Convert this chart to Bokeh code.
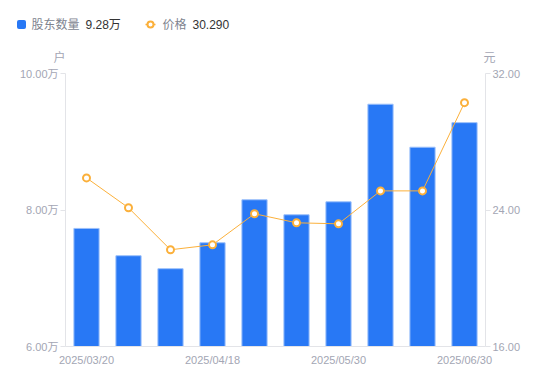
from bokeh.plotting import figure
from bokeh.layouts import column
from bokeh.models import Range1d, LinearAxis, FixedTicker, ColumnDataSource, PrintfTickFormatter
from bokeh.core.properties import value
from bokeh.embed import file_html
from bokeh.resources import INLINE

dates = ["2025/03/20", "2025/03/31", "2025/04/10", "2025/04/18", "2025/04/30",
         "2025/05/20", "2025/05/30", "2025/06/10", "2025/06/20", "2025/06/30"]
holders = [7.73, 7.33, 7.14, 7.52, 8.15, 7.93, 8.12, 9.55, 8.92, 9.28]
prices = [25.88, 24.13, 21.67, 21.96, 23.78, 23.25, 23.19, 25.12, 25.12, 30.29]
shown_labels = [0, 3, 6, 9]
left_ticks = [6, 8, 10]
right_ticks = [16, 24, 32]

FONT = "Liberation Sans, Noto Sans CJK SC"
GRAY = "#A3A6B4"
AXIS = "#E3E4E8"
BLUE = "#2878F5"
ORANGE = "#FBB03B"
W = 550

xs = list(range(len(dates)))
src = ColumnDataSource(dict(x=xs, h=holders, p=prices))

p = figure(width=W, height=305, output_backend="svg", toolbar_location=None,
           x_range=Range1d(-0.5, len(dates) - 0.5), y_range=Range1d(6, 10),
           min_border_left=65, min_border_right=65, min_border_top=8, min_border_bottom=24)
p.frame_align = False
p.outline_line_color = None
p.xgrid.visible = False
p.ygrid.visible = False
p.extra_y_ranges = {"price": Range1d(16, 32)}

p.vbar(x="x", top="h", bottom=6, width=0.6, source=src, fill_color=BLUE,
       line_color="#9CC0FA", line_width=1)
p.line(x="x", y="p", source=src, y_range_name="price", line_color=ORANGE, line_width=1)
p.scatter(x="x", y="p", source=src, y_range_name="price", size=7, fill_color="white",
          line_color=ORANGE, line_width=2)

xa = p.xaxis[0]
xa.ticker = FixedTicker(ticks=shown_labels)
xa.major_label_overrides = {i: dates[i] for i in shown_labels}
xa.axis_line_color = AXIS
xa.major_tick_line_color = None
xa.minor_tick_line_color = None
xa.major_label_text_color = GRAY
xa.major_label_text_font = FONT
xa.major_label_text_font_size = "11px"
xa.major_label_standoff = 1

ya = p.yaxis[0]
ya.ticker = FixedTicker(ticks=left_ticks)
ya.formatter = PrintfTickFormatter(format="%.2f万")
ya.axis_line_color = AXIS
ya.major_tick_line_color = AXIS
ya.major_tick_out = 5
ya.major_tick_in = 0
ya.minor_tick_line_color = None
ya.major_label_text_color = GRAY
ya.major_label_text_font = FONT
ya.major_label_text_font_size = "11px"
ya.major_label_standoff = 2

ra = LinearAxis(y_range_name="price", ticker=FixedTicker(ticks=right_ticks),
                formatter=PrintfTickFormatter(format="%.2f"))
ra.axis_line_color = AXIS
ra.major_tick_line_color = AXIS
ra.major_tick_out = 5
ra.major_tick_in = 0
ra.minor_tick_line_color = None
ra.major_label_text_color = GRAY
ra.major_label_text_font = FONT
ra.major_label_text_font_size = "11px"
ra.major_label_standoff = 2
p.add_layout(ra, "right")

# header: legend and unit labels (pixel coordinates, y downward)
H = 65
lg = figure(width=W, height=H, output_backend="svg", toolbar_location=None,
            x_range=Range1d(0, W), y_range=Range1d(H, 0),
            min_border_left=0, min_border_right=0, min_border_top=0, min_border_bottom=0)
lg.frame_align = False
lg.axis.visible = False
lg.grid.visible = False
lg.outline_line_color = None

lg.rect(x=[21], y=[24], width=9, height=9, fill_color=BLUE, line_color=None, border_radius=2)
lg.line(x=[145, 155], y=[24, 24], line_color=ORANGE, line_width=1.5)
lg.scatter(x=[150], y=[24], size=6, fill_color="white", line_color=ORANGE, line_width=2)

def txt(x, y, t, color, align="left"):
    lg.text(x=[x], y=[y], text=[t], text_color=color, text_font=value(FONT),
            text_font_size="12px", text_align=align, text_baseline="middle")

txt(31, 24, "股东数量", "#80848F")
txt(85, 24, "9.28万", "#333333")
txt(162, 24, "价格", "#80848F")
txt(192, 24, "30.290", "#333333")
txt(59, 57, "户", GRAY, "center")
txt(489, 57, "元", GRAY, "center")

out = file_html(column(lg, p, spacing=0), INLINE)
open("out.html", "w").write(out)
